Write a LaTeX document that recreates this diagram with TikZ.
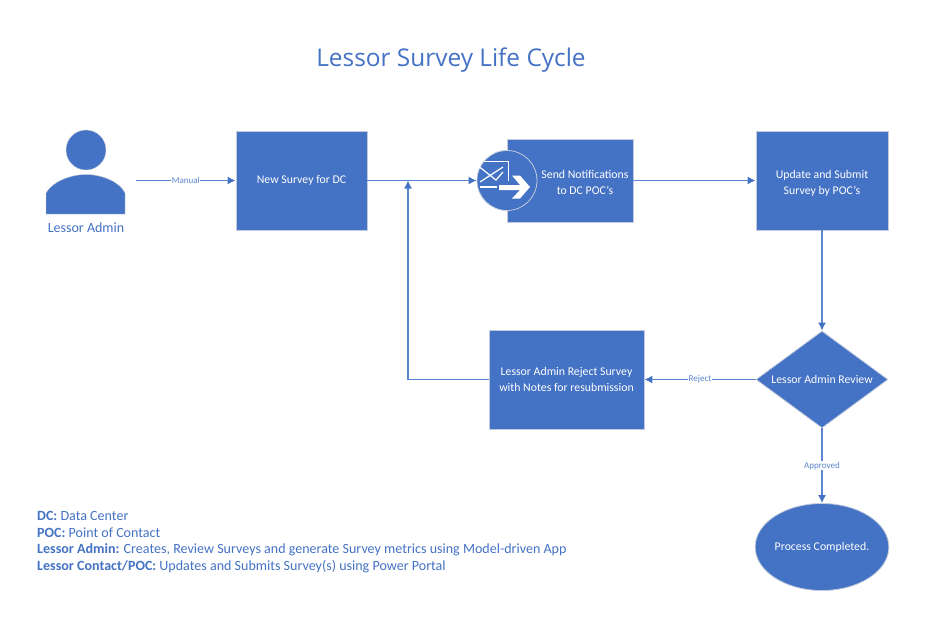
\documentclass[tikz,border=0pt]{standalone}
\usepackage{fontspec}
\setmainfont{Carlito}
\newfontfamily\titlefont{Open Sans}
\usetikzlibrary{shapes.geometric,arrows.meta}
\definecolor{officeblue}{HTML}{4472C4}
\definecolor{linkblue}{HTML}{5B85D0}
\definecolor{edgegray}{HTML}{C3CCDC}
\newcommand{\topstrut}{\rule{0pt}{13pt}}
\tikzstyle{block}=[draw=edgegray,line width=0.8pt,fill=officeblue,text=white,align=center,font=\fontsize{11.8}{16}\selectfont,inner sep=0pt]
\tikzstyle{link}=[draw=linkblue,line width=1.3pt,-{Latex[length=8pt,width=8pt,color=officeblue]}]
\tikzstyle{linklabel}=[fill=white,text=linkblue,font=\fontsize{9}{10}\selectfont,inner sep=0.5pt]
\tikzstyle{legend}=[text=officeblue,anchor=west,inner sep=0pt,font=\fontsize{14.05}{17}\selectfont]
\begin{document}
\begin{tikzpicture}[x=1pt,y=-1pt]
  \useasboundingbox (0,0) rectangle (945,622);
  \node[text=officeblue,font=\titlefont\fontsize{24.4}{28}\selectfont] (title) at (451,60.5) {Lessor Survey Life Cycle};

  % person
  \fill[officeblue,draw=edgegray,line width=0.4pt] (86,150) circle (20);
  \fill[officeblue,draw=edgegray,line width=0.4pt] (46,214) -- (46,193) .. controls (52,182) and (70,174.5) .. (86,174.5) .. controls (102,174.5) and (120,182) .. (125,193) -- (125,214) -- cycle;
  \node[text=officeblue,font=\fontsize{14}{16}\selectfont] (admin) at (86,227.5) {Lessor Admin};
  \coordinate (adminout) at (136,180.5);

  % boxes
  \node[block,minimum width=131pt,minimum height=99pt] (newsurvey) at (301.5,180.5) {New Survey for DC};
  \node[block,minimum width=126pt,minimum height=83pt] (notify) at (570,180.5) {\hspace*{30pt}\topstrut Send Notifications\\\hspace*{30pt}to DC POC's};
  \node[block,minimum width=132pt,minimum height=99pt] (update) at (822,180.5) {\topstrut Update and Submit\\Survey by POC's};
  \node[block,minimum width=155pt,minimum height=99pt] (rejected) at (566.5,379.5) {Lessor Admin Reject Survey\\with Notes for resubmission};
  \node[block,diamond,minimum width=132pt,minimum height=97pt,aspect=1.35] (review) at (822,379.5) {Lessor Admin Review};
  \node[block,ellipse,minimum width=132pt,minimum height=87pt] (done) at (822,547) {Process Completed.};

  % mail icon
  \node[block,circle,minimum size=60pt] (mail) at (507,180.5) {};
  \draw[white,line width=0.9pt] (484,161) -- (508,161) -- (508,181);
  \draw[white,line width=1.2pt] (480,182) -- (503,167) (479.5,167) -- (496,180) -- (503,172);
  \draw[white,line width=1.6pt] (480,187) -- (497,187);
  \fill[white] (499,185) -- (520,185) -- (512,175.5) -- (520,175.5) -- (530,187) -- (520,198.5) -- (512,198.5) -- (520,190) -- (499,190) -- cycle;

  % connectors
  \draw[link] (adminout) -- node[linklabel] {Manual} (newsurvey.west);
  \draw[link] (newsurvey.east) -- (mail.west);
  \draw[link] (notify.east) -- (update.west);
  \draw[link] (update.south) -- (review.north);
  \draw[link] (review.west) -- node[linklabel] {Reject} (rejected.east);
  \draw[link] (review.south) -- node[linklabel] {Approved} (done.north);
  \coordinate (joinpt) at (408,180.5);
  \draw[link] (rejected.west) -| (joinpt);

  % legend
  \node[legend] (leg1) at (37,516) {\textbf{DC:} Data Center};
  \node[legend] (leg2) at (37,533) {\textbf{POC:} Point of Contact};
  \node[legend] (leg3) at (37,550) {\textbf{Lessor Admin:} Creates, Review Surveys and generate Survey metrics using Model-driven App};
  \node[legend] (leg4) at (37,567) {\textbf{Lessor Contact/POC:} Updates and Submits Survey(s) using Power Portal};
\end{tikzpicture}
\end{document}
